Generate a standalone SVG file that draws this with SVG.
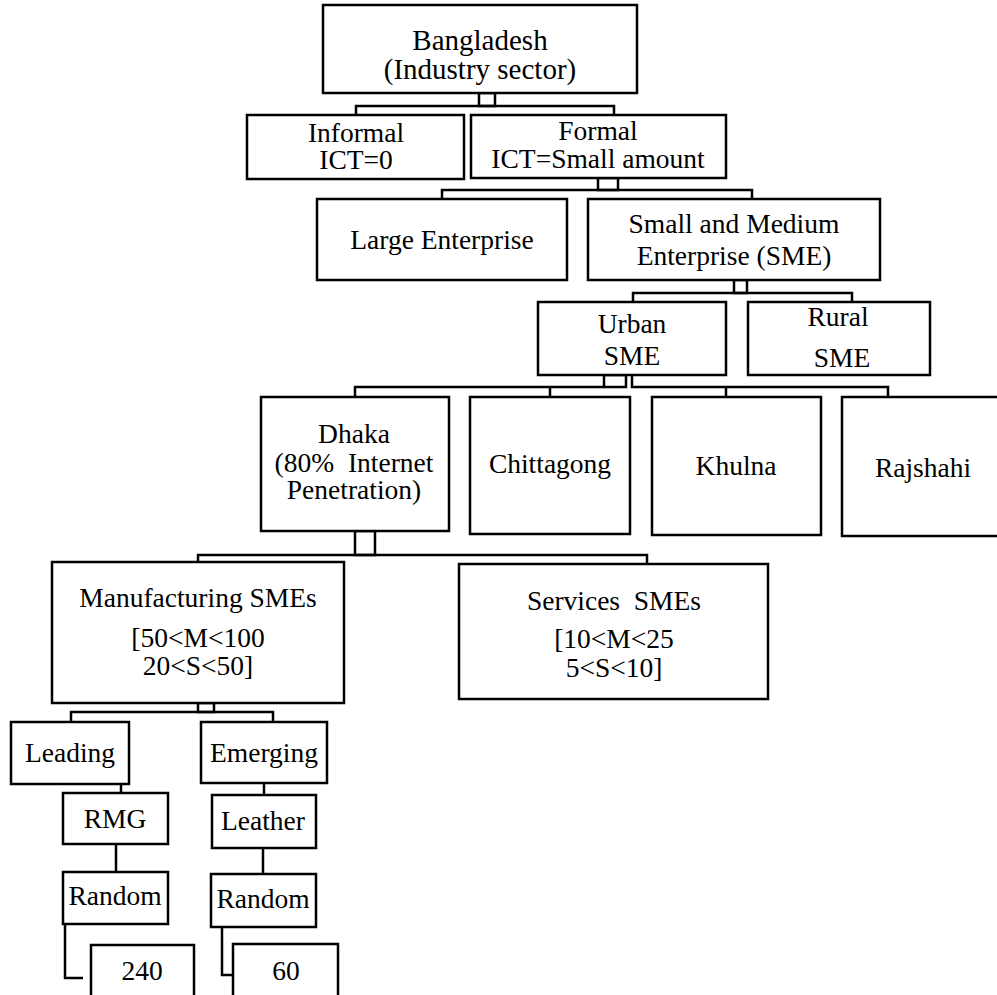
<svg xmlns="http://www.w3.org/2000/svg" width="997" height="995" viewBox="0 0 997 995">
  <style>
    .box { fill: #ffffff; stroke: #000000; stroke-width: 2.5; }
    .link { fill: none; stroke: #000000; stroke-width: 2.5; }
    .joint { fill: #ffffff; stroke: #000000; stroke-width: 2.5; }
    text { font-family: "Liberation Serif", "Times New Roman", serif; font-size: 27.5px; fill: #000000; text-anchor: middle; }
    .big { font-size: 29px; }
  </style>
  <rect width="997" height="995" fill="#ffffff"/>

  <!-- connectors -->
  <g id="connectors">
    <!-- Bangladesh -> Informal / Formal -->
    <rect class="joint" x="479" y="93" width="16" height="13"/>
    <polyline class="link" points="356,115 356,106 614,106 614,115"/>
    <!-- Formal -> Large / SME -->
    <rect class="joint" x="598" y="178" width="20" height="12"/>
    <polyline class="link" points="442,199 442,190 752,190 752,199"/>
    <!-- SME -> Urban / Rural -->
    <rect class="joint" x="734" y="280" width="13" height="13"/>
    <polyline class="link" points="633,302 633,293 852,293 852,302"/>
    <!-- Urban -> cities -->
    <rect class="joint" x="604" y="375" width="22" height="12"/>
    <polyline class="link" points="355,397 355,387 604,387"/>
    <line class="link" x1="550" y1="387" x2="550" y2="397"/>
    <polyline class="link" points="632,375 632,387 888,387 888,397"/>
    <line class="link" x1="726" y1="387" x2="726" y2="397"/>
    <!-- Dhaka -> Manufacturing / Services -->
    <rect class="joint" x="355" y="531" width="20" height="24"/>
    <polyline class="link" points="198,562 198,555 647,555 647,564"/>
    <!-- Manufacturing -> Leading / Emerging -->
    <rect class="joint" x="198" y="703" width="16" height="9"/>
    <polyline class="link" points="71,722 71,712 273,712 273,722"/>
    <!-- chains below Leading / Emerging -->
    <line class="link" x1="121" y1="784" x2="121" y2="793"/>
    <line class="link" x1="116" y1="844" x2="116" y2="872"/>
    <polyline class="link" points="65,924 65,978 83,978"/>
    <line class="link" x1="264" y1="783" x2="264" y2="795"/>
    <line class="link" x1="263" y1="848" x2="263" y2="874"/>
    <polyline class="link" points="222,927 222,975 233,975"/>
  </g>

  <g id="bangladesh">
    <rect class="box" x="323" y="5" width="314" height="88"/>
    <text class="big" x="480" y="50">Bangladesh</text>
    <text class="big" x="480" y="79">(Industry sector)</text>
  </g>

  <g id="informal">
    <rect class="box" x="247" y="115" width="217" height="64"/>
    <text x="356" y="142">Informal</text>
    <text x="356" y="169">ICT=0</text>
  </g>

  <g id="formal">
    <rect class="box" x="471" y="115" width="255" height="63"/>
    <text x="598" y="140">Formal</text>
    <text x="598" y="168">ICT=Small amount</text>
  </g>

  <g id="large-enterprise">
    <rect class="box" x="317" y="199" width="250" height="81"/>
    <text x="442" y="249">Large Enterprise</text>
  </g>

  <g id="sme">
    <rect class="box" x="588" y="199" width="292" height="81"/>
    <text x="734" y="233">Small and Medium</text>
    <text x="734" y="265">Enterprise (SME)</text>
  </g>

  <g id="urban-sme">
    <rect class="box" x="538" y="302" width="188" height="73"/>
    <text x="632" y="333">Urban</text>
    <text x="632" y="365">SME</text>
  </g>

  <g id="rural-sme">
    <rect class="box" x="748" y="302" width="182" height="73"/>
    <text x="838" y="326">Rural</text>
    <text x="842" y="367">SME</text>
  </g>

  <g id="dhaka">
    <rect class="box" x="261" y="397" width="188" height="134"/>
    <text x="354" y="443">Dhaka</text>
    <text x="354" y="472" xml:space="preserve">(80%  Internet</text>
    <text x="354" y="499">Penetration)</text>
  </g>

  <g id="chittagong">
    <rect class="box" x="470" y="397" width="160" height="137"/>
    <text x="550" y="473">Chittagong</text>
  </g>

  <g id="khulna">
    <rect class="box" x="652" y="397" width="169" height="138"/>
    <text x="736" y="475">Khulna</text>
  </g>

  <g id="rajshahi">
    <rect class="box" x="842" y="397" width="162" height="139"/>
    <text x="923" y="477">Rajshahi</text>
  </g>

  <g id="manufacturing">
    <rect class="box" x="52" y="562" width="292" height="141"/>
    <text x="198" y="607">Manufacturing SMEs</text>
    <text x="198" y="647">[50&lt;M&lt;100</text>
    <text x="198" y="675">20&lt;S&lt;50]</text>
  </g>

  <g id="services">
    <rect class="box" x="459" y="564" width="309" height="135"/>
    <text x="614" y="610" xml:space="preserve">Services  SMEs</text>
    <text x="614" y="648">[10&lt;M&lt;25</text>
    <text x="614" y="677">5&lt;S&lt;10]</text>
  </g>

  <g id="leading">
    <rect class="box" x="11" y="722" width="118" height="62"/>
    <text x="70" y="762">Leading</text>
  </g>

  <g id="emerging">
    <rect class="box" x="201" y="722" width="126" height="61"/>
    <text x="264" y="762">Emerging</text>
  </g>

  <g id="rmg">
    <rect class="box" x="63" y="793" width="105" height="51"/>
    <text x="115" y="828">RMG</text>
  </g>

  <g id="leather">
    <rect class="box" x="212" y="795" width="104" height="53"/>
    <text x="263" y="830">Leather</text>
  </g>

  <g id="random-rmg">
    <rect class="box" x="63" y="872" width="105" height="52"/>
    <text x="115" y="905">Random</text>
  </g>

  <g id="random-leather">
    <rect class="box" x="211" y="874" width="105" height="53"/>
    <text x="263" y="908">Random</text>
  </g>

  <g id="sample-240">
    <rect class="box" x="91" y="945" width="103" height="60"/>
    <text x="142" y="980">240</text>
  </g>

  <g id="sample-60">
    <rect class="box" x="233" y="944" width="105" height="61"/>
    <text x="286" y="980">60</text>
  </g>
</svg>
